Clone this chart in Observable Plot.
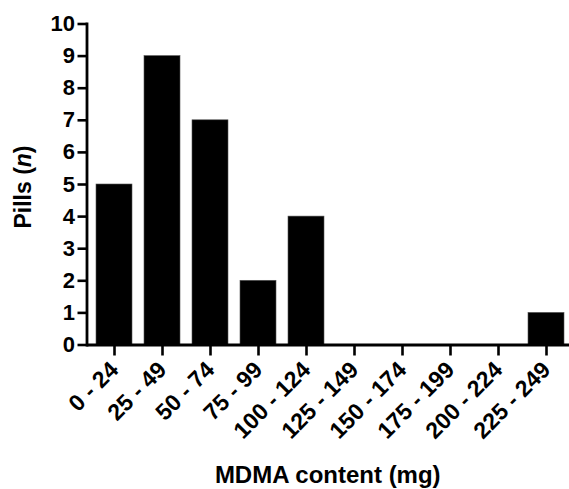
<!DOCTYPE html>
<html>
<head>
<meta charset="utf-8">
<script src="https://cdn.jsdelivr.net/npm/d3@7"></script>
<script src="https://cdn.jsdelivr.net/npm/@observablehq/plot@0.6"></script>
<style>
  html, body { margin: 0; padding: 0; background: white; }
</style>
</head>
<body>
<div id="chart"></div>
<script>
const bins = ["0 - 24", "25 - 49", "50 - 74", "75 - 99", "100 - 124", "125 - 149", "150 - 174", "175 - 199", "200 - 224", "225 - 249"];
const pills = [5, 9, 7, 2, 4, 0, 0, 0, 0, 1];
const yTicks = [0, 1, 2, 3, 4, 5, 6, 7, 8, 9, 10];
const xTitle = "MDMA content (mg)";
const yTitleParts = ["Pills (", "n", ")"];

const data = bins.map((b, i) => ({bin: b, n: pills[i]}));

const W = 569, H = 489;
const mL = 86.5, mR = 0, mT = 23.5, mB = 144.5;

const chart = Plot.plot({
  width: W, height: H,
  marginLeft: mL, marginRight: mR, marginTop: mT, marginBottom: mB,
  style: {fontFamily: "'Liberation Sans', Arial, sans-serif", fontWeight: "bold", fontSize: "22px", color: "black", background: "white", overflow: "visible"},
  x: {domain: bins, paddingInner: 0.24, paddingOuter: 0.084, align: 0.71, label: null},
  y: {domain: [0, 10], label: null},
  marks: [
    Plot.barY(data, {x: "bin", y: "n", fill: "black", stroke: "#555", strokeWidth: 0.6}),
    Plot.axisY({ticks: yTicks, tickSize: 9, tickPadding: 3, strokeWidth: 2.6, fontSize: 22, label: null}),
    Plot.axisX({tickSize: 11, tickFormat: () => "", strokeWidth: 2.6, label: null}),
    Plot.axisX({tickSize: 0, tickRotate: -45, tickPadding: 13, dy: 8, fontSize: 23, label: null}),
    Plot.ruleY([0], {strokeWidth: 2.8}),
    Plot.frame({anchor: "left", strokeWidth: 2.8})
  ]
});

document.getElementById("chart").appendChild(chart);

const svg = d3.select(chart);

svg.append("text")
  .attr("x", (mL + W - mR) / 2)
  .attr("y", 483)
  .attr("text-anchor", "middle")
  .style("font-size", "24px")
  .style("font-weight", "bold")
  .attr("fill", "black")
  .text(xTitle);

const yt = svg.append("text")
  .attr("transform", `translate(31,187) rotate(-90)`)
  .attr("text-anchor", "middle")
  .style("font-size", "23px")
  .style("font-weight", "bold")
  .attr("fill", "black");
yt.append("tspan").text(yTitleParts[0]);
yt.append("tspan").attr("font-style", "italic").text(yTitleParts[1]);
yt.append("tspan").text(yTitleParts[2]);
</script>
</body>
</html>
